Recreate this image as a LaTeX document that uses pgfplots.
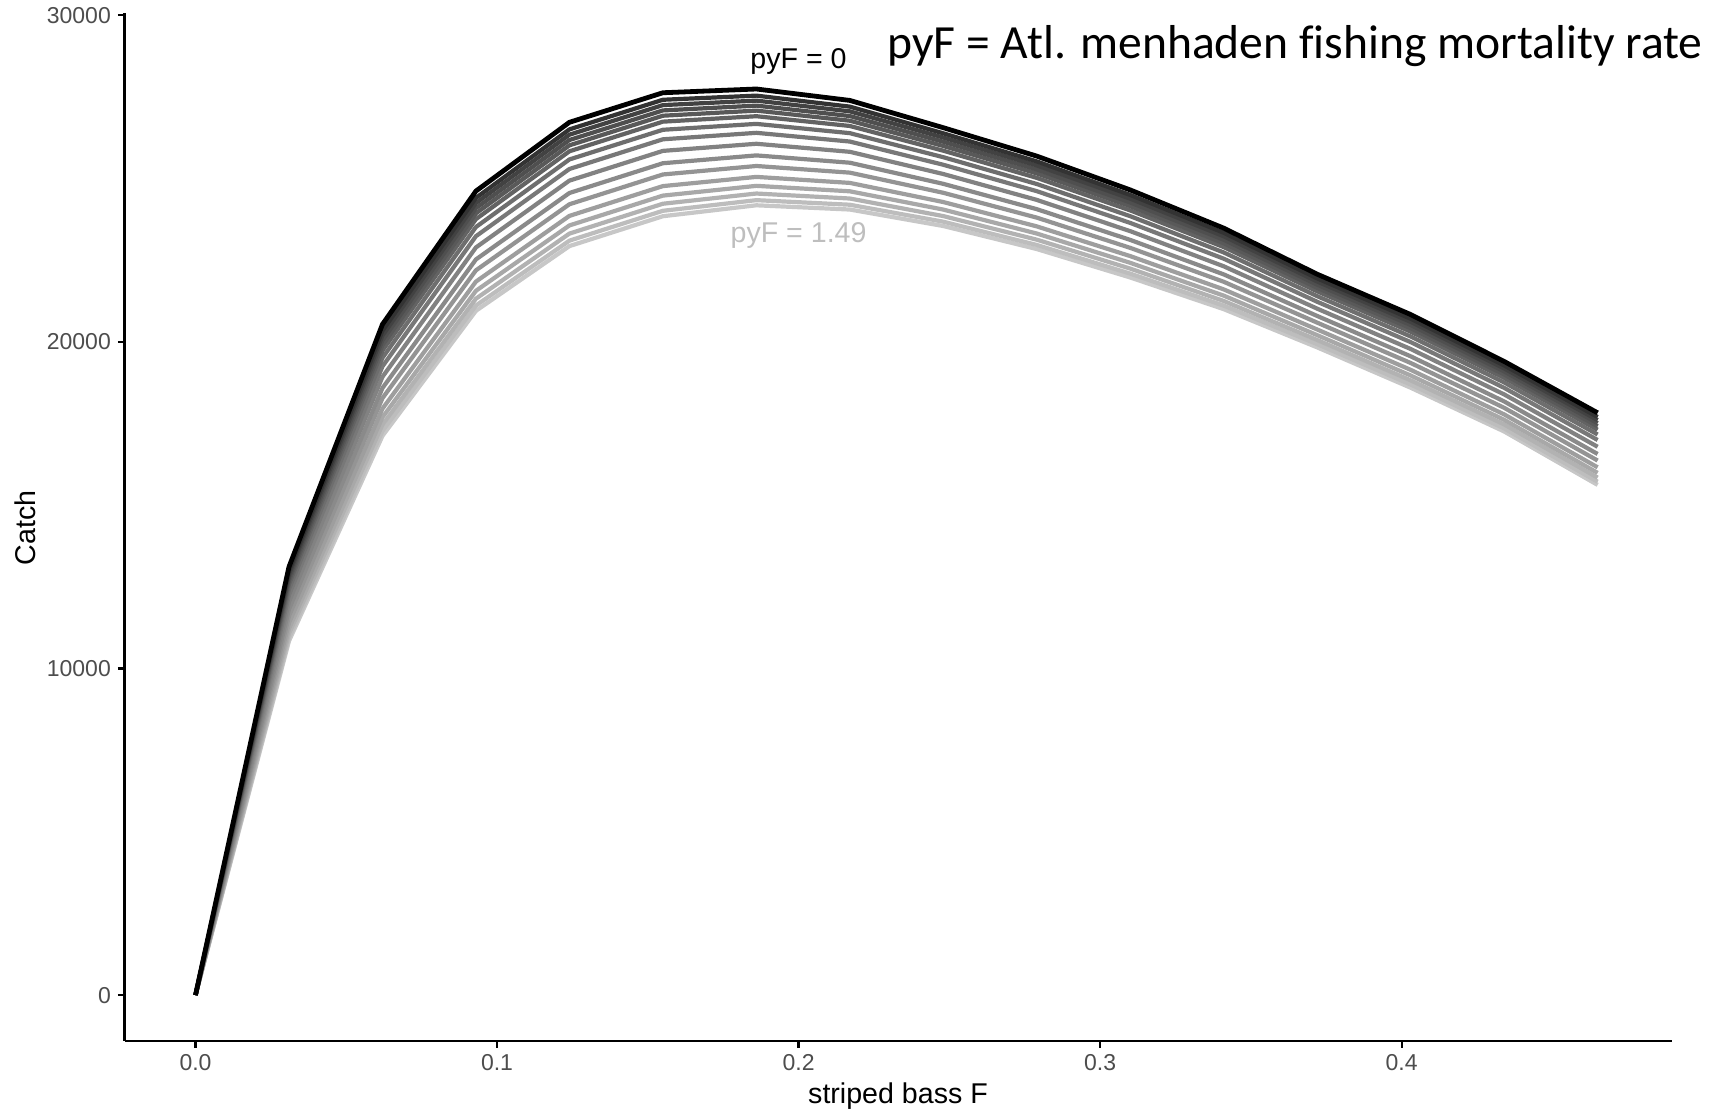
\documentclass[border=0pt]{standalone}
\usepackage{pgfplots}
\pgfplotsset{compat=1.18}
\usepackage{pgfplotstable}
\usepackage{fontspec}
\setmainfont{Liberation Sans}
\newfontfamily\calfont[Ligatures=NoCommon]{Carlito}
\definecolor{ticktxt}{HTML}{4D4D4D}
\definecolor{lbl149}{HTML}{BEBEBE}
\pgfplotstableread{
x c0 c1 c2 c3 c4 c5 c6 c7 c8 c9 c10 c11 c12 c13 c14 c15
0 0 0 0 0 0 0 0 0 0 0 0 0 0 0 0 0
0.031 13110 12981 12883 12785 12688 12579 12429 12254 12041 11814 11607 11394 11219 11069 10940 10840
0.062 20535 20340 20193 20047 19900 19736 19510 19248 18927 18585 18274 17953 17690 17465 17270 17120
0.093 24615 24406 24248 24091 23933 23757 23515 23233 22889 22522 22189 21844 21562 21320 21111 20950
0.124 26720 26504 26341 26178 26015 25833 25583 25291 24935 24556 24211 23855 23563 23313 23097 22930
0.155 27625 27410 27247 27084 26922 26740 26491 26200 25845 25467 25123 24767 24476 24227 24011 23845
0.186 27740 27537 27384 27231 27078 26907 26672 26398 26063 25707 25383 25049 24775 24540 24337 24180
0.217 27390 27200 27056 26912 26769 26608 26388 26131 25817 25483 25179 24865 24608 24387 24197 24050
0.248 26555 26383 26254 26125 25995 25851 25652 25420 25137 24836 24562 24279 24048 23849 23677 23545
0.279 25685 25523 25400 25278 25156 25019 24831 24612 24345 24061 23802 23534 23315 23127 22965 22840
0.310 24650 24497 24382 24267 24152 24023 23846 23640 23388 23120 22876 22624 22418 22241 22088 21970
0.341 23480 23339 23232 23125 23019 22900 22736 22545 22312 22064 21838 21605 21414 21250 21109 21000
0.372 22070 21942 21846 21750 21653 21546 21398 21226 21015 20791 20587 20377 20204 20056 19929 19830
0.403 20835 20707 20611 20515 20418 20311 20163 19991 19780 19556 19352 19142 18969 18821 18694 18595
0.434 19400 19278 19185 19093 19001 18898 18756 18591 18390 18175 17980 17778 17613 17472 17349 17255
0.465 17825 17699 17604 17510 17415 17309 17163 16994 16786 16566 16365 16158 15988 15843 15717 15620
}\catchdata
\begin{document}
\begin{tikzpicture}
\useasboundingbox (0,0) rectangle (856.5pt,556.5pt);
\begin{axis}[
  at={(62.25pt,36pt)}, anchor=south west,
  scale only axis, width=773.5pt, height=514pt,
  xmin=-0.02355, xmax=0.4895, ymin=-1405, ymax=30067,
  axis x line*=bottom, axis y line*=left,
  axis line style={-, line width=1.1pt, black},
  tick align=outside, tick style={line width=1.1pt, black, major tick length=3.3pt},
  xtick={0,0.1,0.2,0.3,0.4}, xticklabels={0.0,0.1,0.2,0.3,0.4},
  ytick={0,10000,20000,30000}, yticklabels={0,10000,20000,30000},
  scaled y ticks=false,
  /pgf/number format/assume math mode=true,
  tick label style={font=\fontsize{11.5}{13}\selectfont, text=ticktxt},
  every axis plot/.append style={line width=2.1pt, line join=round, no markers},
]
\addplot[color=black!22] table[x=x,y=c15] {\catchdata};
\addplot[color=black!26] table[x=x,y=c14] {\catchdata};
\addplot[color=black!30] table[x=x,y=c13] {\catchdata};
\addplot[color=black!34] table[x=x,y=c12] {\catchdata};
\addplot[color=black!38] table[x=x,y=c11] {\catchdata};
\addplot[color=black!42] table[x=x,y=c10] {\catchdata};
\addplot[color=black!46] table[x=x,y=c9] {\catchdata};
\addplot[color=black!49] table[x=x,y=c8] {\catchdata};
\addplot[color=black!53] table[x=x,y=c7] {\catchdata};
\addplot[color=black!57] table[x=x,y=c6] {\catchdata};
\addplot[color=black!61] table[x=x,y=c5] {\catchdata};
\addplot[color=black!65] table[x=x,y=c4] {\catchdata};
\addplot[color=black!69] table[x=x,y=c3] {\catchdata};
\addplot[color=black!74] table[x=x,y=c2] {\catchdata};
\addplot[color=black!80] table[x=x,y=c1] {\catchdata};
\addplot[color=black, line width=2.4pt] table[x=x,y=c0] {\catchdata};
\node[font=\fontsize{14.3}{16}\selectfont, text=black] at (axis cs:0.2,28595) {pyF = 0};
\node[font=\fontsize{14.3}{16}\selectfont, text=lbl149] at (axis cs:0.2,23244) {pyF = 1.49};
\end{axis}
\node[anchor=base, font=\fontsize{14.3}{16}\selectfont] at (449pt,4.8pt) {striped bass F};
\node[anchor=base, rotate=90, font=\fontsize{14.3}{16}\selectfont] at (17.5pt,292.6pt) {Catch};
\node[anchor=base west, inner sep=0pt, font=\calfont\fontsize{23.8}{27}\selectfont] at (443.5pt,527pt) {pyF = Atl. menhaden fishing mortality rate};
\end{tikzpicture}
\end{document}
